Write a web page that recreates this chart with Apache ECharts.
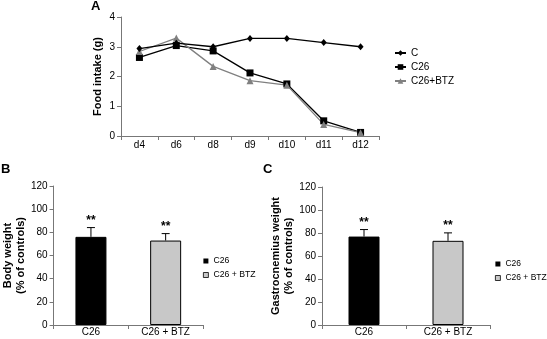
<!DOCTYPE html>
<html><head><meta charset="utf-8">
<script src="https://cdn.jsdelivr.net/npm/echarts@6/dist/echarts.min.js"></script>
<style>html,body{margin:0;padding:0;background:#fff}#c{width:547px;height:339px}</style>
</head><body><div id="c"></div>
<script>
// ---- data ----
const days = ['d4','d6','d8','d9','d10','d11','d12'];
const intakeC   = [2.94, 3.12, 3.00, 3.28, 3.28, 3.14, 3.00];
const intakeC26 = [2.64, 3.04, 2.86, 2.12, 1.75, 0.51, 0.12];
const intakeBTZ = [2.84, 3.29, 2.34, 1.86, 1.71, 0.39, 0.11];
const groups = ['C26', 'C26 + BTZ'];
const bodyMean = [76.1, 72.9];
const bodyErr  = [8.0, 6.0];
const gastroMean = [76.9, 73.2];
const gastroErr  = [6.1, 6.9];
const sig = ['**', '**'];

const FONT = '"Liberation Sans", Arial, sans-serif';
const AX = '#777';

function errRender(params, api) {
  const x = api.value(0), m = api.value(1), e = api.value(2);
  const p0 = api.coord([x, m]);
  const p1 = api.coord([x, m + e]);
  return {
    type: 'group',
    children: [
      {type: 'line', shape: {x1: p0[0], y1: p0[1], x2: p1[0], y2: p1[1]}, style: {stroke: '#000', lineWidth: 1}},
      {type: 'line', shape: {x1: p1[0] - 4, y1: p1[1], x2: p1[0] + 4, y2: p1[1]}, style: {stroke: '#000', lineWidth: 1}},
      {type: 'text', x: p1[0], y: p1[1] - 1,
       style: {text: sig[params.dataIndex], align: 'center', verticalAlign: 'bottom',
               fontSize: 12, fontWeight: 'bold', fontFamily: FONT, fill: '#000'}}
    ]
  };
}

function valAxis(idx, max, interval, name, gap) {
  return {
    type: 'value', gridIndex: idx, min: 0, max: max, interval: interval,
    name: name, nameLocation: 'middle', nameGap: gap, nameRotate: 90,
    nameTextStyle: {fontFamily: FONT, fontSize: 11, fontWeight: 'bold', color: '#000', lineHeight: 13},
    axisLine: {show: true, lineStyle: {color: AX, width: 1}},
    axisTick: {show: true, length: 4, inside: false, lineStyle: {color: AX}},
    axisLabel: {margin: 6, fontFamily: FONT, fontSize: 10, color: '#000'},
    splitLine: {show: false}
  };
}
function catAxis(idx, data, margin) {
  return {
    type: 'category', gridIndex: idx, data: data, boundaryGap: true,
    axisLine: {show: true, lineStyle: {color: AX, width: 1}},
    axisTick: {show: true, length: 4, alignWithLabel: false, lineStyle: {color: AX}},
    axisLabel: {margin: margin, fontFamily: FONT, fontSize: 10, color: '#000', interval: 0},
    splitLine: {show: false}
  };
}

const chart = echarts.init(document.getElementById('c'), null, {renderer: 'canvas'});
chart.setOption({
  animation: false,
  backgroundColor: '#fff',
  textStyle: {fontFamily: FONT},
  grid: [
    {left: 121, top: 17, width: 258, height: 119},
    {left: 49, top: 186, width: 154, height: 139},
    {left: 322, top: 187, width: 168, height: 138}
  ],
  xAxis: [catAxis(0, days, 4), catAxis(1, groups, 2), catAxis(2, groups, 2)],
  yAxis: [
    valAxis(0, 4, 1, 'Food intake (g)', 17),
    valAxis(1, 120, 20, 'Body weight\n(% of controls)', 22),
    valAxis(2, 120, 20, 'Gastrocnemius weight\n(% of controls)', 24)
  ],
  legend: [
    {orient: 'vertical', left: 389, top: 42, itemWidth: 11, itemHeight: 7, itemGap: 2,
     textStyle: {fontFamily: FONT, fontSize: 10, color: '#000', lineHeight: 12},
     data: ['C', 'C26', 'C26+BTZ'], selectedMode: false},
    {orient: 'vertical', left: 198, top: 250, itemWidth: 5, itemHeight: 5, itemGap: 2,
     textStyle: {fontFamily: FONT, fontSize: 8.7, color: '#000', lineHeight: 12},
     selectedMode: false,
     data: [{name: 'C26', icon: 'rect', itemStyle: {color: '#000', borderColor: '#000', borderWidth: 0}},
            {name: 'C26 + BTZ', icon: 'rect', itemStyle: {color: '#c8c8c8', borderColor: '#000', borderWidth: 0.8}}]},
    {orient: 'vertical', left: 490, top: 253, itemWidth: 5, itemHeight: 5, itemGap: 2,
     textStyle: {fontFamily: FONT, fontSize: 8.5, color: '#000', lineHeight: 12},
     selectedMode: false,
     data: [{name: 'C26', icon: 'rect', itemStyle: {color: '#000', borderColor: '#000', borderWidth: 0}},
            {name: 'C26 + BTZ', icon: 'rect', itemStyle: {color: '#c8c8c8', borderColor: '#000', borderWidth: 0.8}}]}
  ],
  graphic: [
    {type: 'text', left: 91, top: 0, style: {text: 'A', fontFamily: FONT, fontSize: 13, fontWeight: 'bold', fill: '#000'}},
    {type: 'text', left: 1, top: 163, style: {text: 'B', fontFamily: FONT, fontSize: 13, fontWeight: 'bold', fill: '#000'}},
    {type: 'text', left: 263, top: 163, style: {text: 'C', fontFamily: FONT, fontSize: 13, fontWeight: 'bold', fill: '#000'}}
  ],
  series: [
    {name: 'C26', type: 'line', xAxisIndex: 0, yAxisIndex: 0, data: intakeC26,
     symbol: 'rect', symbolSize: 7, color: '#000', lineStyle: {color: '#000', width: 1.3},
     itemStyle: {color: '#000'}},
    {name: 'C26+BTZ', type: 'line', xAxisIndex: 0, yAxisIndex: 0, data: intakeBTZ,
     symbol: 'triangle', symbolSize: 7, color: '#808080', lineStyle: {color: '#808080', width: 1.3},
     itemStyle: {color: '#808080'}},
    {name: 'C', type: 'line', xAxisIndex: 0, yAxisIndex: 0, data: intakeC,
     symbol: 'diamond', symbolSize: [6, 7], color: '#000', lineStyle: {color: '#000', width: 1.3},
     itemStyle: {color: '#000'}},

    {name: 'C26', type: 'bar', xAxisIndex: 1, yAxisIndex: 1, data: [bodyMean[0], '-'],
     barWidth: 31, barGap: '-100%', itemStyle: {color: '#000', borderColor: '#000', borderWidth: 1}},
    {name: 'C26 + BTZ', type: 'bar', xAxisIndex: 1, yAxisIndex: 1, data: ['-', bodyMean[1]],
     barWidth: 31, barGap: '-100%', itemStyle: {color: '#c8c8c8', borderColor: '#000', borderWidth: 1}},
    {type: 'custom', xAxisIndex: 1, yAxisIndex: 1, z: 5, renderItem: errRender,
     data: bodyMean.map((m, i) => [i, m, bodyErr[i]])},

    {name: 'C26', type: 'bar', xAxisIndex: 2, yAxisIndex: 2, data: [gastroMean[0], '-'],
     barWidth: 31, barGap: '-100%', itemStyle: {color: '#000', borderColor: '#000', borderWidth: 1}},
    {name: 'C26 + BTZ', type: 'bar', xAxisIndex: 2, yAxisIndex: 2, data: ['-', gastroMean[1]],
     barWidth: 31, barGap: '-100%', itemStyle: {color: '#c8c8c8', borderColor: '#000', borderWidth: 1}},
    {type: 'custom', xAxisIndex: 2, yAxisIndex: 2, z: 5, renderItem: errRender,
     data: gastroMean.map((m, i) => [i, m, gastroErr[i]])}
  ]
});
</script></body></html>
